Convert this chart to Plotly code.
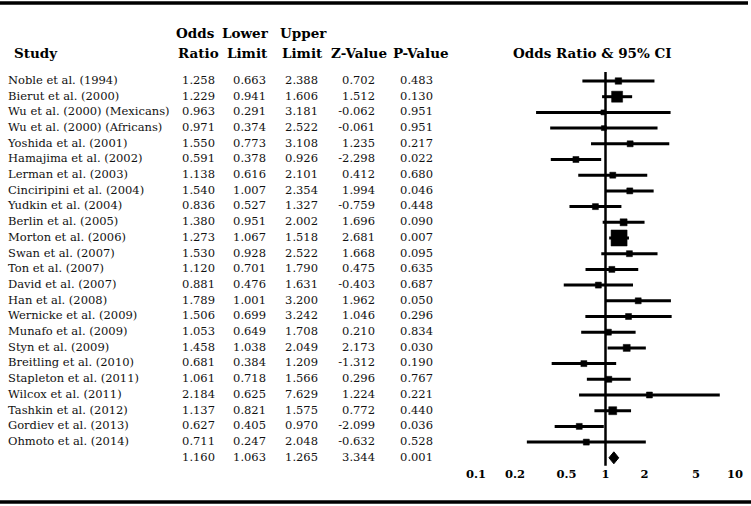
import plotly.graph_objects as go

studies = ["Noble et al. (1994)", "Bierut et al. (2000)", "Wu et al. (2000) (Mexicans)",
           "Wu et al. (2000) (Africans)", "Yoshida et al. (2001)", "Hamajima et al. (2002)",
           "Lerman et al. (2003)", "Cinciripini et al. (2004)", "Yudkin et al. (2004)",
           "Berlin et al. (2005)", "Morton et al. (2006)", "Swan et al. (2007)",
           "Ton et al. (2007)", "David et al. (2007)", "Han et al. (2008)",
           "Wernicke et al. (2009)", "Munafo et al. (2009)", "Styn et al. (2009)",
           "Breitling et al. (2010)", "Stapleton et al. (2011)", "Wilcox et al. (2011)",
           "Tashkin et al. (2012)", "Gordiev et al. (2013)", "Ohmoto et al. (2014)"]
odds_ratio = [1.258, 1.229, 0.963, 0.971, 1.550, 0.591, 1.138, 1.540, 0.836, 1.380, 1.273, 1.530,
              1.120, 0.881, 1.789, 1.506, 1.053, 1.458, 0.681, 1.061, 2.184, 1.137, 0.627, 0.711]
lower = [0.663, 0.941, 0.291, 0.374, 0.773, 0.378, 0.616, 1.007, 0.527, 0.951, 1.067, 0.928,
         0.701, 0.476, 1.001, 0.699, 0.649, 1.038, 0.384, 0.718, 0.625, 0.821, 0.405, 0.247]
upper = [2.388, 1.606, 3.181, 2.522, 3.108, 0.926, 2.101, 2.354, 1.327, 2.002, 1.518, 2.522,
         1.790, 1.631, 3.200, 3.242, 1.708, 2.049, 1.209, 1.566, 7.629, 1.575, 0.970, 2.048]
z_value = [0.702, 1.512, -0.062, -0.061, 1.235, -2.298, 0.412, 1.994, -0.759, 1.696, 2.681, 1.668,
           0.475, -0.403, 1.962, 1.046, 0.210, 2.173, -1.312, 0.296, 1.224, 0.772, -2.099, -0.632]
p_value = [0.483, 0.130, 0.951, 0.951, 0.217, 0.022, 0.680, 0.046, 0.448, 0.090, 0.007, 0.095,
           0.635, 0.687, 0.050, 0.296, 0.834, 0.030, 0.190, 0.767, 0.221, 0.440, 0.036, 0.528]
# estimated relative weights (marker area)
weights = [2.9, 8.4, 1.7, 1.7, 2.5, 2.5, 2.5, 2.5, 2.5, 3.4, 17.8, 2.5,
           2.5, 2.5, 2.5, 2.5, 2.5, 3.4, 2.5, 2.5, 2.5, 4.4, 2.5, 2.5]
summary = {"or": 1.160, "lower": 1.063, "upper": 1.265, "z": 3.344, "p": 0.001}
tick_vals = [0.1, 0.2, 0.5, 1, 2, 5, 10]
tick_text = ["0.1", "0.2", "0.5", "1", "2", "5", "10"]

W, H = 751, 506
ROW0, ROWH = 81, 15.7
SERIF = "DejaVu Serif"

def py(px):
    return 1 - px / H

n = len(studies)
rows = list(range(n))
srow = n

fig = go.Figure()

# CI lines
cx, cy = [], []
for i in rows:
    cx += [lower[i], upper[i], None]
    cy += [i, i, None]
fig.add_trace(go.Scatter(x=cx, y=cy, mode="lines", line=dict(color="black", width=3),
                         xaxis="x", yaxis="y", hoverinfo="skip", showlegend=False))
# reference line at 1
fig.add_trace(go.Scatter(x=[1, 1], y=[-0.57, srow + 0.5], mode="lines",
                         line=dict(color="black", width=2.5), xaxis="x", yaxis="y",
                         hoverinfo="skip", showlegend=False))
# squares
fig.add_trace(go.Scatter(x=odds_ratio, y=rows, mode="markers",
                         marker=dict(symbol="square", color="#000000", opacity=1,
                                     size=[3.8 * w ** 0.5 for w in weights],
                                     line=dict(width=0.5, color="#000000")),
                         xaxis="x", yaxis="y", showlegend=False, hoverinfo="skip"))
# diamond
dh = 0.38
fig.add_trace(go.Scatter(x=[summary["lower"], summary["or"], summary["upper"], summary["or"], summary["lower"]],
                         y=[srow, srow - dh, srow, srow + dh, srow],
                         mode="lines", fill="toself", fillcolor="black",
                         line=dict(color="black", width=1), xaxis="x", yaxis="y",
                         showlegend=False, hoverinfo="skip"))
# tick labels
fig.add_trace(go.Scatter(x=tick_vals, y=[(475 - ROW0) / ROWH] * len(tick_vals), mode="text",
                         text=[f"<b>{t}</b>" for t in tick_text], textposition="middle center",
                         textfont=dict(family=SERIF, size=11.5, color="black"), cliponaxis=False,
                         xaxis="x", yaxis="y", showlegend=False, hoverinfo="skip"))

# table text
names_font = dict(family=SERIF, size=11.5, color="#111")
num_font = dict(family=SERIF, size=11.5, color="#111")
fig.add_trace(go.Scatter(x=[8] * n, y=rows, mode="text", text=studies, textposition="middle right",
                         textfont=names_font, cliponaxis=False,
                         xaxis="x2", yaxis="y", showlegend=False, hoverinfo="skip"))
cols = [(215, odds_ratio + [summary["or"]]), (266, lower + [summary["lower"]]),
        (318, upper + [summary["upper"]]), (375, z_value + [summary["z"]]),
        (433, p_value + [summary["p"]])]
for xr, vals in cols:
    fig.add_trace(go.Scatter(x=[xr] * len(vals), y=rows + [srow], mode="text",
                             text=[f"{v:.3f}" for v in vals], textposition="middle left",
                             textfont=num_font, cliponaxis=False,
                             xaxis="x2", yaxis="y", showlegend=False, hoverinfo="skip"))

head = dict(family=SERIF, size=13.5, color="black")
anns = [("Odds", 195, 33, "center"), ("Lower", 245, 33, "center"), ("Upper", 303, 33, "center"),
        ("Study", 12, 53, "left"), ("Ratio", 198, 53, "center"), ("Limit", 247, 53, "center"),
        ("Limit", 302, 53, "center"), ("Z-Value", 359, 53, "center"), ("P-Value", 421, 53, "center"),
        ("Odds Ratio & 95% CI", 592, 53, "center")]
annotations = []
for t, x, y, al in anns:
    annotations.append(dict(text=f"<b>{t}</b>", x=x, y=py(y), xref="x2", yref="paper",
                            xanchor=al, yanchor="middle", showarrow=False, font=head))

shapes = [dict(type="line", xref="paper", yref="paper", x0=0, x1=748 / W, y0=py(3), y1=py(3),
               line=dict(color="black", width=3.5)),
          dict(type="line", xref="paper", yref="paper", x0=0, x1=1, y0=py(502), y1=py(502),
               line=dict(color="black", width=3.5))]

fig.update_layout(
    width=W, height=H, margin=dict(l=0, r=0, t=0, b=0),
    paper_bgcolor="white", plot_bgcolor="rgba(0,0,0,0)", hovermode=False,
    xaxis=dict(type="log", range=[-1, 1], domain=[476 / W, 735 / W], visible=False),
    xaxis2=dict(range=[0, W], domain=[0, 1], visible=False, anchor="y"),
    yaxis=dict(range=[(H - ROW0) / ROWH, -ROW0 / ROWH], domain=[0, 1], visible=False),
    annotations=annotations, shapes=shapes, showlegend=False,
)
fig.write_html("out.html", config={"displayModeBar": False, "staticPlot": True},
               post_script="document.body.style.margin='0px';document.body.style.overflow='hidden';")
